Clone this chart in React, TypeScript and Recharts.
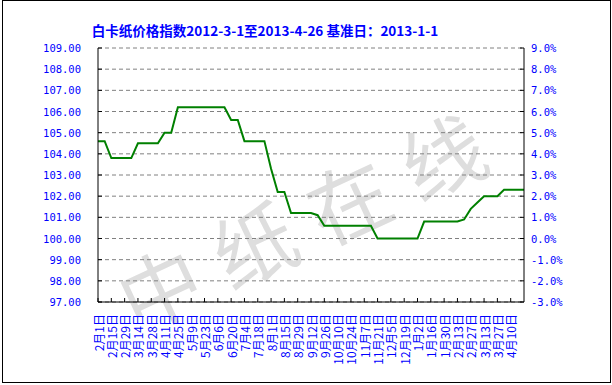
import React from "react";
import { LineChart, Line, XAxis, YAxis, CartesianGrid } from "recharts";

// 每两周一个刻度标签（2012-2-1 起）
const tickLabels = [
  "2月1日", "2月15日", "2月29日", "3月14日", "3月28日", "4月11日", "4月25日", "5月9日",
  "5月23日", "6月6日", "6月20日", "7月4日", "7月18日", "8月1日", "8月15日", "8月29日",
  "9月12日", "9月26日", "10月10日", "10月24日", "11月7日", "11月21日", "12月5日", "12月19日",
  "1月2日", "1月16日", "1月30日", "2月13日", "2月27日", "3月13日", "3月27日", "4月10日",
];

// 周度指数
const indexValues = [
  104.6, 104.6, 103.8, 103.8, 103.8, 103.8, 104.5, 104.5, 104.5, 104.5,
  105.0, 105.0, 106.2, 106.2, 106.2, 106.2, 106.2, 106.2, 106.2, 106.2,
  105.6, 105.6, 104.6, 104.6, 104.6, 104.6, 103.3, 102.2, 102.2, 101.2,
  101.2, 101.2, 101.2, 101.1, 100.6, 100.6, 100.6, 100.6, 100.6, 100.6,
  100.6, 100.6, 100.0, 100.0, 100.0, 100.0, 100.0, 100.0, 100.0, 100.8,
  100.8, 100.8, 100.8, 100.8, 100.8, 100.9, 101.4, 101.7, 102.0, 102.0,
  102.0, 102.3, 102.3, 102.3, 102.3,
];

const BASE = 100; // 基准日 2013-1-1
const leftTicks = [97, 98, 99, 100, 101, 102, 103, 104, 105, 106, 107, 108, 109];
const rightTicks = [-3, -2, -1, 0, 1, 2, 3, 4, 5, 6, 7, 8, 9];

const data = indexValues.map((v, i) => ({ i, v, pct: v - BASE }));
const xTicks = tickLabels.map((_, k) => k * 2);

const BLUE = "#0000ff";
const TICK_FONT = "'DejaVu Sans Mono', monospace";

const LeftTick = (props: any) => {
  const { x, y, payload } = props;
  return (
    <g>
      <line x1={x + 17} x2={x + 21} y1={y} y2={y} stroke="#000" />
      <text x={x} y={y} textAnchor="end" dominantBaseline="central" fill={BLUE} fontSize={10.5} fontFamily={TICK_FONT}>
        {Number(payload.value).toFixed(2)}
      </text>
    </g>
  );
};

const RightTick = (props: any) => {
  const { x, y, payload } = props;
  return (
    <g>
      <line x1={x - 7} x2={x - 11} y1={y} y2={y} stroke="#000" />
      <text x={x} y={y} textAnchor="start" dominantBaseline="central" fill={BLUE} fontSize={10.5} fontFamily={TICK_FONT}>
        {Number(payload.value).toFixed(1) + "%"}
      </text>
    </g>
  );
};

const BottomTick = (props: any) => {
  const { x, y, payload } = props;
  const label = tickLabels[Math.round(payload.value / 2)];
  return (
    <g>
      <line x1={x} x2={x} y1={y - 8} y2={y - 12} stroke="#000" />
      <text
        x={x}
        y={y + 4}
        transform={`rotate(-90, ${x}, ${y + 4})`}
        textAnchor="end"
        dominantBaseline="central"
        fill={BLUE}
        fontSize={12}
        fontFamily="'Noto Sans CJK SC', sans-serif"
      >
        {label}
      </text>
    </g>
  );
};

export default function App() {
  return (
    <div style={{ position: "absolute", left: 0, top: 0, width: 612, height: 385, background: "#fff", overflow: "hidden" }}>
      {/* 水印 */}
      <svg width={612} height={385} style={{ position: "absolute", left: 0, top: 0 }}>
        <text
          x={310}
          y={215}
          transform="rotate(-25, 310, 215)"
          textAnchor="middle"
          dominantBaseline="central"
          fontSize={82}
          letterSpacing={22}
          fill="#dedede"
          fontFamily="'Noto Sans CJK SC', sans-serif"
        >
          中纸在线
        </text>
      </svg>
      <div
        style={{
          position: "absolute", left: 0, top: 20, width: 530, textAlign: "center",
          color: BLUE, fontSize: 13.5, fontWeight: "bold", fontFamily: "'Noto Sans CJK SC', sans-serif",
          lineHeight: "20px",
        }}
      >
        白卡纸价格指数2012-3-1至2013-4-26 基准日：2013-1-1
      </div>
      <div style={{ position: "absolute", left: 0, top: 0 }}>
        <LineChart width={612} height={385} data={data} margin={{ top: 48, right: 0, bottom: 0, left: 0 }}>
          <CartesianGrid yAxisId="left" vertical={false} stroke="#808080" strokeDasharray="4 3" />
          <XAxis
            dataKey="i"
            type="number"
            domain={[0, 64]}
            ticks={xTicks}
            interval={0}
            height={83}
            tickLine={false}
            tickSize={0}
            tickMargin={8}
            axisLine={{ stroke: "#000" }}
            tick={BottomTick}
          />
          <YAxis
            yAxisId="left"
            domain={[97, 109]}
            ticks={leftTicks}
            interval={0}
            width={98}
            tickLine={false}
            tickSize={0}
            tickMargin={17}
            axisLine={{ stroke: "#000" }}
            tick={LeftTick}
          />
          <YAxis
            yAxisId="right"
            orientation="right"
            domain={[-3, 9]}
            ticks={rightTicks}
            interval={0}
            width={88}
            tickLine={false}
            tickSize={0}
            tickMargin={7}
            axisLine={{ stroke: "#000" }}
            tick={RightTick}
          />
          <Line
            yAxisId="right"
            type="linear"
            dataKey="pct"
            stroke="#008000"
            strokeOpacity={0}
            strokeWidth={2}
            dot={false}
            activeDot={false}
            isAnimationActive={false}
          />
          <Line
            yAxisId="left"
            type="linear"
            dataKey="v"
            stroke="#008000"
            strokeWidth={2}
            dot={false}
            isAnimationActive={false}
          />
        </LineChart>
      </div>
      <div style={{ position: "absolute", left: 2, top: 0, width: 607, height: 381, border: "1px solid #000" }} />
    </div>
  );
}
